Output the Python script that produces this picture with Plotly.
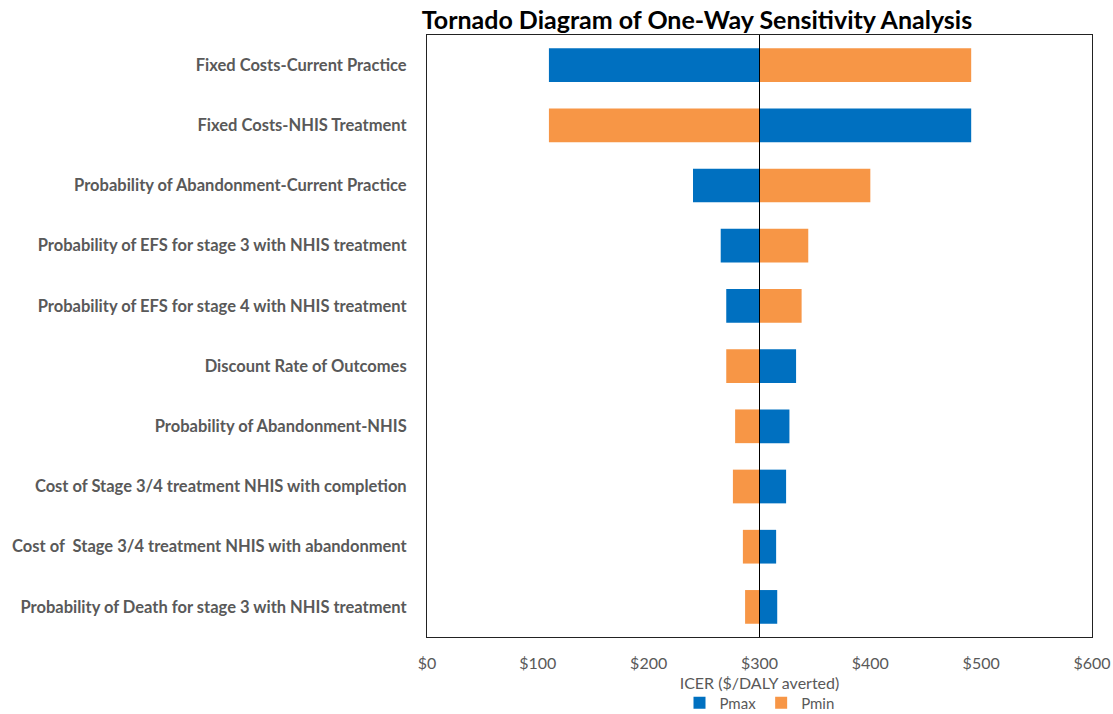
import plotly.graph_objects as go

# One-way sensitivity analysis: ICER at the upper / lower bound of each parameter
parameters = [
    "Fixed Costs-Current Practice",
    "Fixed Costs-NHIS Treatment",
    "Probability of Abandonment-Current Practice",
    "Probability of EFS for stage 3 with NHIS treatment",
    "Probability of EFS for stage 4 with NHIS treatment",
    "Discount Rate of Outcomes",
    "Probability of Abandonment-NHIS",
    "Cost of Stage 3/4 treatment NHIS with completion",
    "Cost of  Stage 3/4 treatment NHIS with abandonment",
    "Probability of Death for stage 3 with NHIS treatment",
]
pmax_icer = [110, 491, 240, 265, 270, 333, 327, 324, 315, 316]
pmin_icer = [491, 110, 400, 344, 338, 270, 278, 276, 285, 287]
base_icer = 300
tick_values = [0, 100, 200, 300, 400, 500, 600]
tick_labels = ["$" + str(v) for v in tick_values]

BLUE = "#0070C0"
ORANGE = "#F79646"
GREY = "#595959"
FONT = "Lato, 'Open Sans', sans-serif"

fig = go.Figure()
fig.add_trace(go.Bar(
    name="Pmax", y=parameters, x=[v - base_icer for v in pmax_icer],
    base=base_icer, orientation="h", marker=dict(color=BLUE, line=dict(width=0)),
))
fig.add_trace(go.Bar(
    name="Pmin", y=parameters, x=[v - base_icer for v in pmin_icer],
    base=base_icer, orientation="h", marker=dict(color=ORANGE, line=dict(width=0)),
))

# vertical reference line at the base-case ICER
fig.add_shape(type="line", xref="x", yref="paper", x0=base_icer, x1=base_icer,
              y0=0, y1=1, line=dict(color="black", width=1), layer="above")

fig.update_layout(
    width=1113, height=714,
    margin=dict(l=427, r=21, t=35, b=77, autoexpand=False),
    paper_bgcolor="white", plot_bgcolor="white",
    barmode="overlay", bargap=0.44,
    font=dict(family=FONT, color=GREY),
    title=dict(
        text="<b>Tornado Diagram of One-Way Sensitivity Analysis</b>",
        font=dict(family=FONT, size=25, color="black"),
        xref="paper", x=0.406, xanchor="center",
        yref="container", y=1 - 20 / 714, yanchor="middle",
    ),
    legend=dict(
        orientation="h", x=0.5, xanchor="center",
        yref="paper", y=(637 - 703) / 602, yanchor="middle",
        font=dict(size=15, color=GREY), traceorder="normal",
        itemwidth=30, tracegroupgap=0,
    ),
    xaxis=dict(
        range=[0, 600], tickvals=tick_values, ticktext=tick_labels,
        showgrid=False, zeroline=False, automargin=False,
        showline=True, mirror=True, linecolor="#222222", linewidth=1,
        ticks="", ticklabelstandoff=12,
        tickfont=dict(size=16, color=GREY),
        title=dict(text="ICER ($/DALY averted)", font=dict(size=16, color=GREY), standoff=6),
    ),
    yaxis=dict(
        autorange="reversed", showgrid=False, zeroline=False, automargin=False,
        showline=True, mirror=True, linecolor="#222222", linewidth=1,
        ticks="", ticklabelstandoff=16,
        tickfont=dict(size=16.5, color=GREY, weight="bold"),
    ),
)

fig.write_html("out.html")
